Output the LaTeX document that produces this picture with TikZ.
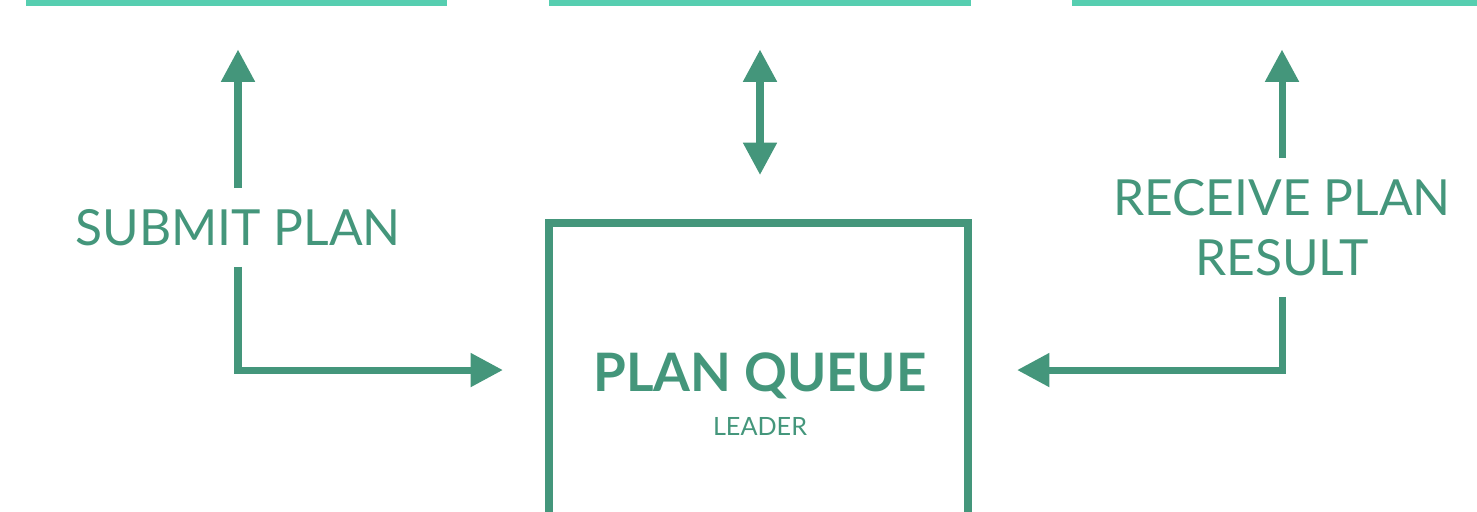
\documentclass[tikz,border=0pt]{standalone}
\usepackage{fontspec}
\setmainfont{Lato}
\usepackage{tikz}
\usetikzlibrary{arrows.meta}
\definecolor{planteal}{HTML}{56CEB0}
\definecolor{plangreen}{HTML}{44967B}
\tikzstyle{topbox} = [draw=planteal, line width=5.7pt, outer sep=0pt, minimum width=10.325cm, minimum height=4cm, anchor=south]
\tikzstyle{qbox} = [draw=plangreen, line width=5.7pt, outer sep=0pt, minimum width=10.475cm, minimum height=7.35cm, anchor=north]
\tikzstyle{lbl} = [text=plangreen, inner xsep=0pt, inner ysep=0.52cm, align=center, font=\fontsize{35.4}{42.7}\selectfont]
\tikzstyle{flow} = [style={-{Triangle[length=23pt,width=23pt]},draw=plangreen,line width=5pt}]
\tikzstyle{bothflow} = [style={{Triangle[length=23pt,width=23pt]}-{Triangle[length=23pt,width=23pt]},draw=plangreen,line width=5pt}]

\begin{document}
\begin{tikzpicture}[x=0.025cm, y=-0.025cm]
        \useasboundingbox (0,0) rectangle (1477,512);
        \clip (0,0) rectangle (1477,512);
        % boxes along the top, only their lower edge shows
        \node[topbox] (top1) at (236.5,1.5) {};
        \node[topbox] (top2) at (760,1.5) {};
        \node[topbox] (top3) at (1282.5,1.5) {};
        % the queue
        \node[qbox] (queue) at (758.5,223) {};
        \node[text=plangreen, anchor=base, font=\fontsize{37.7}{45}\selectfont\bfseries] (qname) at (760,391) {PLAN QUEUE};
        \node[text=plangreen, anchor=base, font=\fontsize{17.9}{21}\selectfont] (qrole) at (760,435) {LEADER};
        % labels on the side arrows
        \node[lbl] (submit) at (238,227.5) {SUBMIT PLAN};
        \node[lbl] (receive) at (1282,227.5) {RECEIVE PLAN\\RESULT};
        \draw[flow, shorten >=1.2cm] (submit.north) -- (submit.north |- top1.south);
        \draw[flow, shorten >=1.15cm] (submit.south) |- (queue.west);
        \draw[bothflow, shorten <=1.2cm, shorten >=1.2cm] (top2.south |- queue.north) -- (top2.south);
        \draw[flow, shorten >=1.2cm] (receive.north) -- (receive.north |- top3.south);
        \draw[flow, shorten >=1.225cm] (receive.south) |- (queue.east);
      \end{tikzpicture}
\end{document}
